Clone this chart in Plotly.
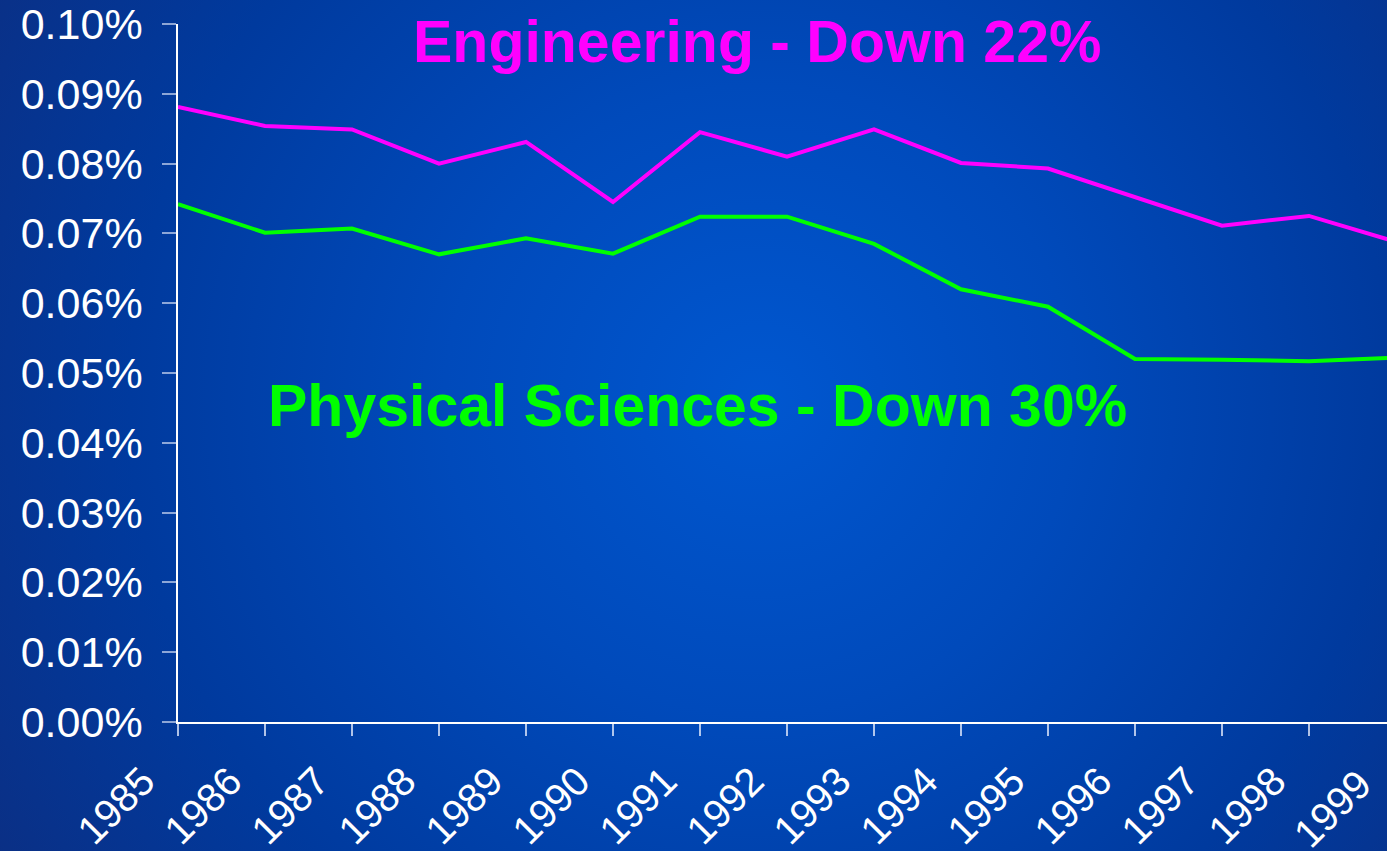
import base64
import plotly.graph_objects as go

years = list(range(1985, 2000))
year_labels = [str(y) for y in years]
engineering = [0.0881, 0.0854, 0.0849, 0.0800, 0.0831, 0.0745, 0.0845, 0.0810,
               0.0849, 0.0801, 0.0793, 0.0752, 0.0711, 0.0725, 0.0688]
physical = [0.0742, 0.0701, 0.0707, 0.0670, 0.0693, 0.0671, 0.0724, 0.0724,
            0.0685, 0.0620, 0.0595, 0.0520, 0.0519, 0.0517, 0.0522]
y_ticks = [0.00, 0.01, 0.02, 0.03, 0.04, 0.05, 0.06, 0.07, 0.08, 0.09, 0.10]
y_tick_labels = [f"{v:.2f}%" for v in y_ticks]
eng_title = "Engineering - Down 22%"
phys_title = "Physical Sciences - Down 30%"

W, H = 1387, 851
ML, MR, MT, MB = 178, 0, 24, 129
PW, PH = W - ML - MR, H - MT - MB
PX_PER_YEAR = 87.0

svg = f"""<svg xmlns='http://www.w3.org/2000/svg' width='{W}' height='{H}' viewBox='0 0 {W} {H}' preserveAspectRatio='none'>
<defs><radialGradient id='g' cx='760' cy='400' r='900' gradientUnits='userSpaceOnUse'>
<stop offset='0' stop-color='#0057d0'/><stop offset='0.35' stop-color='#004abb'/>
<stop offset='0.7' stop-color='#003a9e'/><stop offset='1' stop-color='#0b2f84'/></radialGradient></defs>
<rect width='{W}' height='{H}' fill='url(#g)'/></svg>"""
bg_src = "data:image/svg+xml;base64," + base64.b64encode(svg.encode()).decode()

fig = go.Figure()
fig.add_trace(go.Scatter(x=years, y=engineering, mode="lines",
                         line=dict(color="#FF00FF", width=4), name="Engineering"))
fig.add_trace(go.Scatter(x=years, y=physical, mode="lines",
                         line=dict(color="#00FF00", width=4), name="Physical Sciences"))

x_end = years[0] + PW / PX_PER_YEAR

fig.update_layout(
    width=W, height=H, autosize=False,
    margin=dict(l=ML, r=MR, t=MT, b=MB, pad=0, autoexpand=False),
    paper_bgcolor="#0b2f84", plot_bgcolor="rgba(0,0,0,0)",
    showlegend=False,
    font=dict(family="Liberation Sans, Arial, sans-serif", color="white"),
    images=[dict(source=bg_src, xref="paper", yref="paper",
                 x=-ML / PW, y=1 + MT / PH, sizex=W / PW, sizey=H / PH,
                 xanchor="left", yanchor="top", sizing="stretch", layer="below")],
    xaxis=dict(range=[years[0], x_end], tickmode="array", tickvals=years,
               ticktext=year_labels, tickangle=-45, showgrid=False, zeroline=False,
               showline=True, linecolor="white", linewidth=1.5,
               ticks="outside", ticklen=12, tickwidth=1.5,
               tickcolor="rgba(235,240,255,0.75)", automargin=False,
               tickfont=dict(size=40, color="white"),
               ticklabelstandoff=6, ticklabelshift=-35),
    yaxis=dict(range=[0, 0.1], tickmode="array", tickvals=y_ticks,
               ticktext=y_tick_labels, showgrid=False, zeroline=False,
               showline=True, linecolor="white", linewidth=1.5,
               ticks="outside", ticklen=14, tickwidth=1.5,
               tickcolor="rgba(235,240,255,0.6)", automargin=False,
               tickfont=dict(size=43, color="white"),
               ticklabelstandoff=11),
    annotations=[
        dict(text=f"<b>{eng_title}</b>", xref="paper", yref="paper",
             x=(757 - ML) / PW, y=(722 - 42) / PH, xanchor="center", yanchor="middle",
             showarrow=False, font=dict(size=59, color="#FF00FF",
                                        family="Liberation Sans, Arial, sans-serif")),
        dict(text=f"<b>{phys_title}</b>", xref="paper", yref="paper",
             x=(697 - ML) / PW, y=(722 - 406) / PH, xanchor="center", yanchor="middle",
             showarrow=False, font=dict(size=59, color="#00FF00",
                                        family="Liberation Sans, Arial, sans-serif")),
        dict(text=year_labels[-1], xref="paper", yref="paper",
             x=1 + (years[-1] - x_end) * PX_PER_YEAR / PW, y=0,
             xshift=-64, yshift=-87, textangle=-45, showarrow=False,
             xanchor="center", yanchor="middle",
             font=dict(size=40, color="white")),
    ],
)

fig.write_html("out.html", config={"displayModeBar": False},
               post_script="document.body.style.margin='0';document.body.style.overflow='hidden';")
